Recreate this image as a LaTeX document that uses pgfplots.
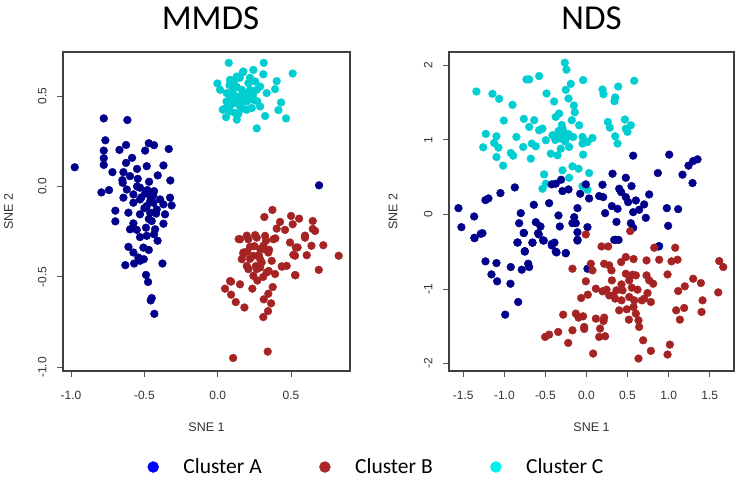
\documentclass[border=0pt]{standalone}
\usepackage{pgfplots}
\pgfplotsset{compat=1.18}
\usepackage{fontspec}
\setmainfont{Liberation Sans}
\newfontfamily\calibri{Carlito}
\definecolor{cA}{RGB}{0,0,139}
\definecolor{cB}{RGB}{165,35,35}
\definecolor{cC}{RGB}{0,206,209}
\definecolor{lA}{RGB}{0,0,255}
\definecolor{lB}{RGB}{170,40,40}
\definecolor{lC}{RGB}{0,240,240}
\pgfplotsset{rstyle/.style={
  scale only axis, height=319pt,
  axis line style={black!75, line width=1.1pt},
  tick style={black!65, line width=0.9pt},
  major tick length=6pt, tick align=outside,
  xtick pos=bottom, ytick pos=left,
  ticklabel style={font=\fontsize{12}{14}\selectfont, text=black!80},
  xticklabel shift=11pt, yticklabel shift=7pt,
  yticklabel style={rotate=90, anchor=south},
  label style={font=\fontsize{12.5}{15}\selectfont, text=black!80},
  xlabel style={at={(axis description cs:0.5,-0.1755)}, anchor=center},
  title style={font=\calibri\fontsize{35}{40}\selectfont, at={(axis description cs:0.5,1)}, anchor=center, yshift=28pt},
  every axis plot/.append style={only marks, mark=*, mark size=3.9pt},
}}
\begin{document}
\begin{tikzpicture}
\path[use as bounding box] (0pt,0pt) rectangle (738pt,479pt);
% ---------------- MMDS ----------------
\begin{axis}[rstyle, at={(63pt,108pt)}, anchor=south west, width=287pt,
  xmin=-1.055, xmax=0.902, ymin=-1.02, ymax=0.743,
  xtick={-1,-0.5,0,0.5}, xticklabels={-1.0,-0.5,0.0,0.5},
  ytick={-1,-0.5,0,0.5}, yticklabels={-1.0,-0.5,0.0,0.5},
  xlabel={SNE 1}, ylabel={SNE 2},
  ylabel style={at={(axis description cs:-0.19,0.5)}, anchor=center},
  title={MMDS}, title style={xshift=4pt},
  legend columns=3,
  legend image code/.code={\path (-6pt,0pt) (30pt,0pt); \draw[#1] plot coordinates {(0pt,0pt)};},
  legend style={at={(axis description cs:0,0)}, anchor=west, xshift=84pt, yshift=-96pt,
    draw=none, fill=none, inner sep=0pt, outer sep=0pt,
    font=\calibri\fontsize{21.5}{24}\selectfont,
    cells={anchor=west}, nodes={inner sep=0pt},
    /tikz/every even column/.append style={column sep=57pt}},
]
\addlegendimage{mark=*, mark size=5.5pt, color=lA}
\addlegendimage{mark=*, mark size=5.5pt, color=lB}
\addlegendimage{mark=*, mark size=5.5pt, color=lC}
\legend{Cluster A, Cluster B, Cluster C}
\addplot[cC, forget plot] coordinates {
(0.075,0.683)(0.314,0.683)(0.511,0.624)(-0.002,0.569)(0.402,0.582)(0.391,0.538)
(0.432,0.464)(0.414,0.422)(0.466,0.376)(0.323,0.389)(0.266,0.321)(0.130,0.369)
(0.057,0.383)(0.034,0.424)(0.016,0.534)(0.084,0.589)(0.175,0.635)(0.243,0.644)
(0.311,0.620)(0.334,0.516)(0.289,0.442)(0.198,0.424)(0.107,0.461)(0.152,0.497)
(0.220,0.534)(0.107,0.543)(0.130,0.607)(0.209,0.571)(0.255,0.580)(0.152,0.442)
(0.084,0.488)(0.243,0.479)(0.061,0.516)(0.164,0.534)(0.266,0.534)(0.198,0.488)
(0.118,0.406)(0.232,0.433)(0.289,0.552)(0.084,0.415)
(0.12,0.50)(0.14,0.47)(0.10,0.52)(0.18,0.50)(0.16,0.46)(0.09,0.45)(0.13,0.55)
(0.20,0.47)(0.11,0.58)(0.15,0.60)(0.22,0.60)(0.17,0.63)(0.06,0.47)(0.08,0.56)
(0.17,0.43)(0.24,0.50)(0.27,0.47)(0.14,0.40)(0.21,0.52)(0.05,0.43)
};
\addplot[cA, forget plot] coordinates {
(-0.975,0.106)(-0.777,0.376)(-0.616,0.367)(-0.766,0.255)(-0.777,0.198)(-0.777,0.156)
(-0.777,0.119)(-0.670,0.202)(-0.625,0.229)(-0.495,0.198)(-0.470,0.239)(-0.434,0.228)
(-0.334,0.207)(-0.584,0.158)(-0.625,0.130)(-0.718,0.079)(-0.643,0.079)(-0.550,0.097)
(-0.484,0.112)(-0.370,0.116)(-0.409,0.061)(-0.323,0.033)(-0.650,0.035)(-0.545,0.042)
(-0.468,0.026)(-0.793,-0.033)(-0.741,-0.020)(-0.648,0.020)(-0.598,0.057)(-0.620,-0.017)
(-0.575,-0.044)(-0.530,-0.007)(-0.493,-0.035)(-0.461,-0.053)(-0.434,-0.026)(-0.393,-0.072)
(-0.325,-0.062)(-0.314,-0.105)(-0.370,-0.099)(-0.575,-0.090)(-0.530,-0.072)(-0.484,-0.108)
(-0.439,-0.090)(-0.643,-0.062)(-0.698,-0.134)(-0.698,-0.193)(-0.609,-0.145)(-0.530,-0.154)
(-0.461,-0.145)(-0.416,-0.127)(-0.359,-0.154)(-0.370,-0.206)(-0.450,-0.191)(-0.575,-0.204)
(-0.598,-0.237)(-0.552,-0.240)(-0.489,-0.228)(-0.427,-0.237)(-0.434,-0.264)(-0.484,-0.273)
(-0.609,-0.334)(-0.575,-0.365)(-0.541,-0.393)(-0.507,-0.338)(-0.470,-0.351)(-0.504,-0.402)
(-0.630,-0.435)(-0.570,-0.426)(-0.377,-0.426)(-0.530,-0.411)
(-0.489,-0.489)(-0.475,-0.528)(-0.450,-0.617)(-0.457,-0.630)(-0.432,-0.704)
(0.691,0.006)
(-0.48,-0.02)(-0.52,-0.06)(-0.46,-0.08)(-0.50,-0.12)(-0.44,-0.05)(-0.55,0.0)
(-0.42,-0.15)(-0.47,-0.18)(-0.53,-0.28)(-0.41,-0.30)
};
\addplot[cB, forget plot] coordinates {
(0.373,-0.130)(0.318,-0.169)(0.425,-0.196)(0.500,-0.163)(0.555,-0.178)(0.511,-0.209)
(0.402,-0.233)(0.459,-0.240)(0.648,-0.191)(0.664,-0.246)(0.595,-0.283)(0.639,-0.328)
(0.720,-0.325)(0.825,-0.383)(0.689,-0.461)(0.607,-0.380)(0.532,-0.338)(0.493,-0.310)
(0.527,-0.383)(0.470,-0.439)(0.527,-0.490)(0.436,-0.442)(0.391,-0.484)(0.152,-0.292)
(0.209,-0.292)(0.266,-0.283)(0.323,-0.273)(0.380,-0.292)(0.175,-0.365)(0.243,-0.383)
(0.311,-0.328)(0.345,-0.365)(0.289,-0.402)(0.368,-0.411)(0.198,-0.439)(0.266,-0.457)
(0.334,-0.475)(0.243,-0.494)(0.164,-0.402)(0.220,-0.334)(0.289,-0.345)(0.084,-0.523)
(0.143,-0.291)(0.198,-0.272)(0.255,-0.269)(0.393,-0.287)(0.175,-0.374)(0.311,-0.346)
(0.209,-0.457)(0.289,-0.448)(0.236,-0.565)(0.348,-0.467)(0.439,-0.443)(0.530,-0.491)
(0.091,-0.526)(0.152,-0.541)(0.050,-0.565)(0.091,-0.598)(0.123,-0.639)(0.182,-0.669)
(0.314,-0.624)(0.364,-0.646)(0.343,-0.689)(0.311,-0.722)(0.375,-0.556)(0.345,-0.593)
(0.105,-0.948)(0.341,-0.913)(0.516,-0.378)(0.545,-0.337)(0.595,-0.272)(0.648,-0.235)
(0.25,-0.33)(0.28,-0.38)(0.22,-0.40)(0.30,-0.42)(0.33,-0.30)(0.26,-0.44)(0.20,-0.36)
(0.35,-0.35)(0.31,-0.50)(0.27,-0.52)
};
\end{axis}
% ---------------- NDS ----------------
\begin{axis}[rstyle, at={(449pt,108pt)}, anchor=south west, width=285pt,
  xmin=-1.674, xmax=1.796, ymin=-2.10, ymax=2.18,
  xtick={-1.5,-1,-0.5,0,0.5,1,1.5}, xticklabels={-1.5,-1.0,-0.5,0.0,0.5,1.0,1.5},
  ytick={-2,-1,0,1,2}, yticklabels={-2,-1,0,1,2},
  xlabel={SNE 1}, ylabel={SNE 2},
  ylabel style={at={(axis description cs:-0.196,0.5)}, anchor=center},
  title={NDS},
]
\addplot[cC] coordinates {
(-1.340,1.650)(-1.145,1.619)(-1.064,1.552)(-0.901,1.471)(-1.007,1.260)(-1.226,1.081)
(-1.258,0.901)(-1.096,1.049)(-1.125,0.960)(-1.072,0.897)(-1.096,0.771)(-1.015,0.655)
(-0.922,0.825)(-0.893,0.789)(-0.853,1.040)(-0.771,0.906)(-0.763,1.283)(-0.731,1.812)
(-0.698,1.812)(-0.577,1.857)(-0.698,1.175)(-0.637,1.265)(-0.666,0.951)(-0.678,0.749)
(-0.617,0.915)(-0.577,1.130)(-0.536,1.152)(-0.487,1.623)(-0.394,1.516)(-0.264,2.036)
(-0.244,1.942)(-0.191,1.753)(-0.252,1.673)(-0.219,1.556)(-0.154,1.462)(-0.142,1.372)
(-0.041,1.803)(-0.179,1.265)(-0.089,1.197)(-0.374,1.309)(-0.333,1.354)(-0.317,1.085)
(-0.292,1.152)(-0.353,1.040)(-0.252,1.018)(-0.414,1.063)(-0.495,0.996)(-0.435,0.816)
(-0.353,0.794)(-0.313,0.883)(-0.211,0.906)(-0.162,1.040)(-0.049,1.040)(-0.049,0.951)
(0.012,0.973)(0.073,1.027)(-0.041,0.803)(-0.171,0.646)(-0.097,0.614)(-0.292,0.592)
(-0.211,0.493)(0.032,0.556)(-0.516,0.538)(-0.495,0.413)(-0.536,0.345)(-0.049,0.381)
(0.012,0.332)(0.195,1.677)(0.207,1.614)(0.386,1.717)(0.349,1.570)(0.341,1.520)
(0.581,1.794)(0.260,1.242)(0.284,1.166)(0.349,1.049)(0.378,0.951)(0.467,1.274)
(0.540,1.197)(0.499,1.108)(0.479,1.152)
(-0.28,1.10)(-0.32,1.02)(-0.26,0.98)(-0.34,1.12)(-0.30,1.20)(-0.22,1.08)(-0.38,1.00)
};
\addplot[cA] coordinates {
(-1.559,0.085)(-1.523,-0.170)(-1.368,-0.027)(-1.364,-0.318)(-1.267,-0.251)(-1.230,0.193)
(-1.194,0.215)(-1.048,0.287)(-0.873,0.363)(-0.641,0.130)(-0.800,0.018)(-0.820,-0.117)
(-0.763,-0.247)(-0.840,-0.377)(-0.751,-0.498)(-0.658,-0.377)(-0.617,-0.103)(-0.560,-0.161)
(-0.589,-0.251)(-0.520,-0.350)(-0.422,-0.395)(-0.374,-0.498)(-0.252,-0.520)(-0.390,-0.377)
(-0.455,0.152)(-0.422,0.404)(-0.374,0.413)(-0.309,0.466)(-0.292,0.314)(-0.219,0.336)
(-0.341,-0.013)(-0.325,-0.161)(-0.150,-0.036)(-0.130,-0.117)(-0.110,-0.238)(-0.110,-0.350)
(0.012,-0.170)(-0.110,0.085)(-0.077,0.278)(-0.008,0.404)(0.032,0.215)(0.154,0.247)
(0.203,0.233)(0.195,0.399)(0.317,0.547)(0.227,0.018)(0.309,0.112)(0.378,0.076)
(0.365,-0.099)(0.337,-0.341)(0.390,-0.341)(0.398,0.345)(0.422,0.300)(0.479,0.493)
(0.548,0.381)(0.479,0.233)(0.507,0.166)(0.568,0.031)(0.641,0.063)(0.702,0.135)
(0.568,0.789)(0.601,0.188)(0.763,0.269)(0.540,-0.117)(0.722,-0.045)(0.568,-0.179)
(0.869,0.556)(1.007,0.803)(0.978,0.085)(0.994,-0.152)(1.116,0.072)(1.169,0.534)
(1.242,0.655)(1.299,0.717)(1.352,0.740)(1.291,0.422)(0.877,-0.430)(-0.171,-0.117)
(-1.364,-0.313)(-1.287,-0.259)(-1.230,-0.629)(-1.096,-0.652)(-1.157,-0.804)(-1.088,-0.897)
(-0.922,-0.705)(-0.926,-0.929)(-0.990,-1.344)(-0.832,-1.174)(-0.840,-0.375)(-0.751,-0.491)
(-0.788,-0.741)(-0.710,-0.661)(-0.698,-0.705)(-0.658,-0.379)(-0.528,-0.348)(-0.422,-0.415)
(-0.365,-0.509)(-0.252,-0.518)(-0.110,-0.339)(0.012,-0.728)(0.357,-0.339)(0.885,-0.424)
(-0.763,-0.250)(-0.581,-0.268)
};
\addplot[cB] coordinates {
(-0.008,-0.268)(0.532,-0.223)(0.183,-0.429)(0.264,-0.429)(0.825,-0.446)(1.080,-0.446)
(-0.171,-0.728)(0.053,-0.661)(0.073,-0.750)(0.215,-0.661)(0.276,-0.683)(0.304,-0.750)
(0.422,-0.638)(0.479,-0.571)(0.573,-0.598)(0.731,-0.616)(0.885,-0.607)(1.035,-0.629)
(1.108,-0.607)(1.616,-0.625)(1.665,-0.705)(-0.008,-0.897)(0.114,-0.996)(0.195,-1.031)
(0.244,-1.009)(0.309,-0.884)(0.365,-1.018)(0.276,-1.085)(0.349,-1.129)(0.479,-0.795)
(0.560,-0.808)(0.601,-0.817)(0.426,-0.938)(0.439,-1.018)(0.552,-0.982)(0.621,-1.009)
(0.731,-0.817)(0.763,-0.884)(0.812,-0.929)(0.743,-1.054)(0.703,-1.129)(0.784,-1.174)
(0.987,-0.804)(1.116,-1.027)(1.197,-0.964)(1.299,-0.862)(1.393,-0.920)(1.413,-1.152)
(1.401,-1.308)(1.189,-1.254)(1.092,-1.286)(1.137,-1.411)(1.604,-1.045)(-0.065,-1.121)
(0.016,-1.076)(0.398,-1.286)(0.491,-1.272)(0.573,-1.241)(0.601,-1.330)(0.633,-1.420)
(0.516,-1.411)(0.641,-1.509)(0.690,-1.688)(0.784,-1.830)(0.633,-1.933)(0.987,-1.879)
(1.015,-1.746)(-0.284,-1.344)(-0.130,-1.330)(-0.097,-1.384)(-0.041,-1.366)(-0.028,-1.509)
(-0.171,-1.554)(-0.345,-1.576)(-0.455,-1.612)(-0.504,-1.643)(-0.223,-1.723)(-0.028,-1.536)
(0.114,-1.397)(0.215,-1.384)(0.207,-1.429)(0.166,-1.531)(0.154,-1.643)(0.227,-1.634)
(0.081,-1.866)(0.520,-0.884)(0.426,-1.152)(0.581,-1.152)(0.674,-1.152)(0.520,-1.107)
(0.325,-1.085)
};
\end{axis}
\end{tikzpicture}
\end{document}
